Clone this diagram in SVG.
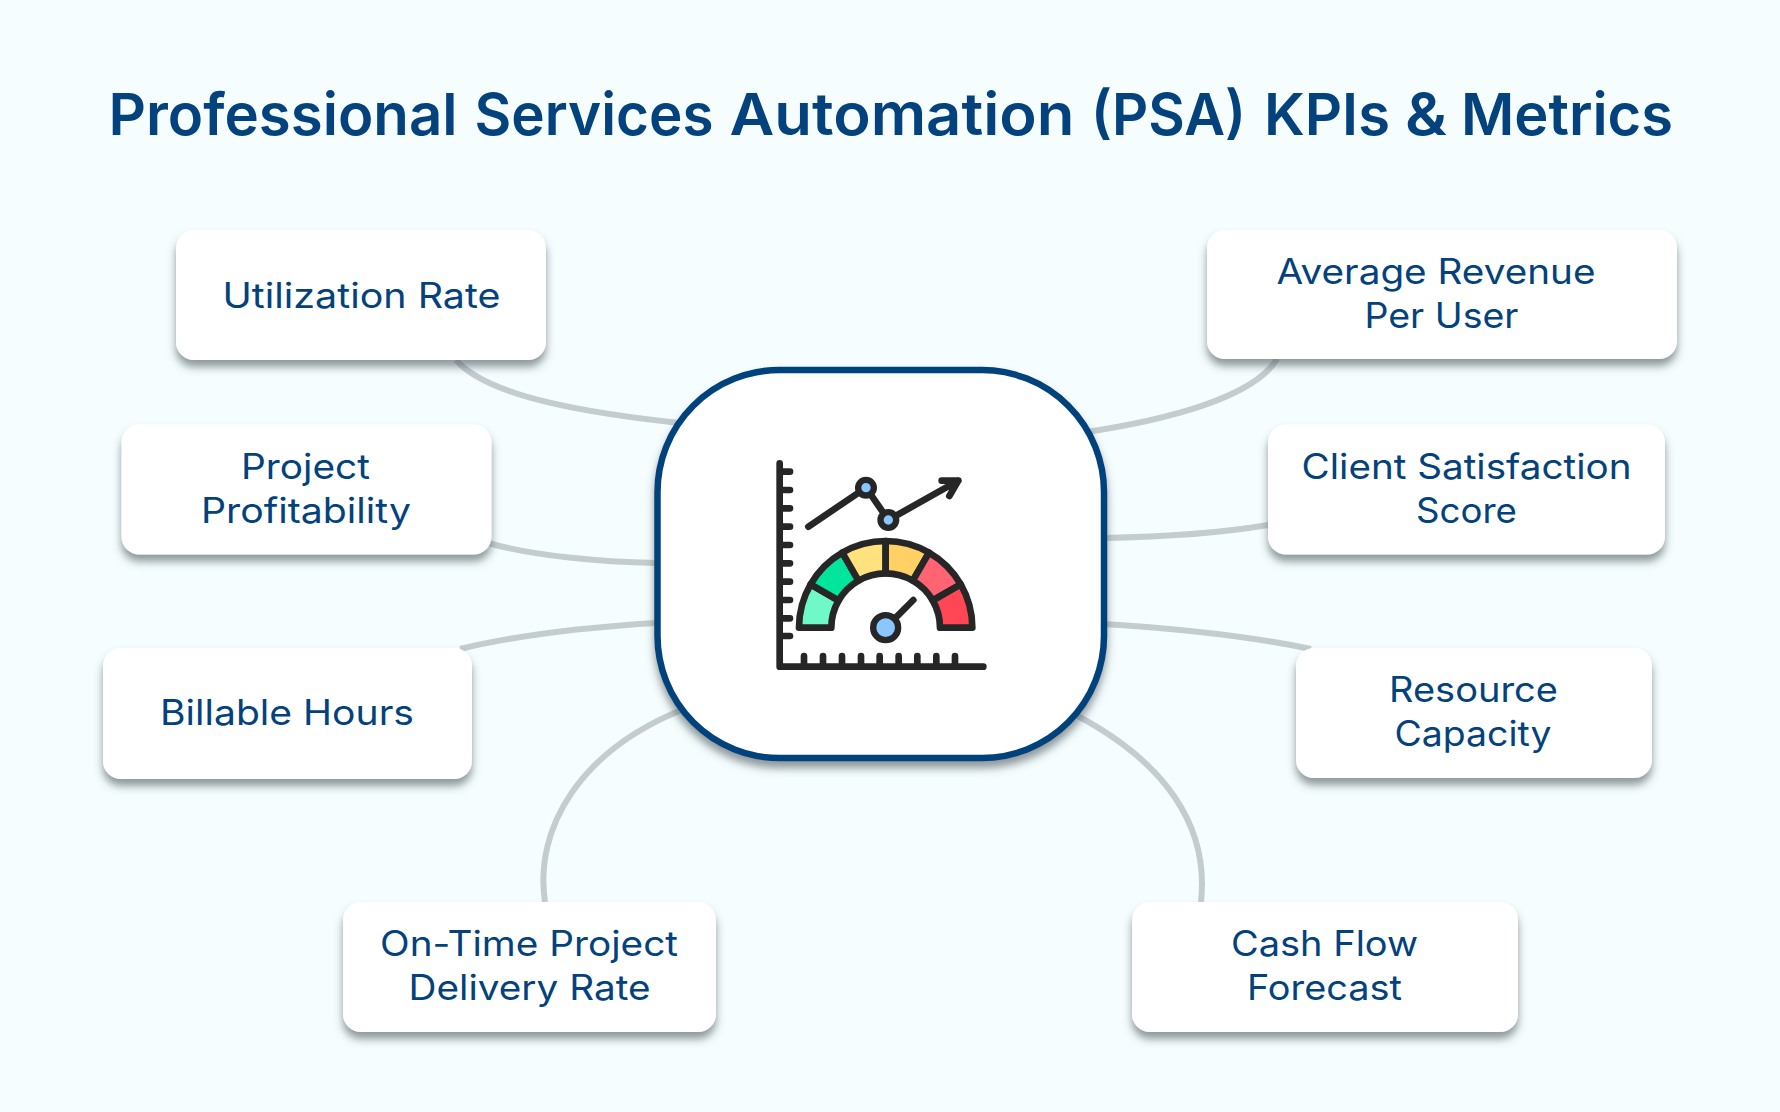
<svg xmlns="http://www.w3.org/2000/svg" width="1780" height="1112" viewBox="0 0 1780 1112">
<style>
.t{font-family:Inter,"Liberation Sans",sans-serif;fill:#03427c;font-size:35px;font-weight:400}
.h{font-family:Inter,"Liberation Sans",sans-serif;fill:#03427c;font-size:58px;font-weight:600}
.b{fill:#fff;filter:url(#s)}
.c{fill:none;stroke:#c3cdcf;stroke-width:6}
.k{fill:none;stroke:#262626;stroke-width:20;stroke-linecap:round;stroke-linejoin:round}
.g{stroke:#262626;stroke-width:20;stroke-linejoin:round}
.d{fill:#8ac6ff;stroke:#262626;stroke-width:19}
</style>
<defs><filter id="s" x="-15%" y="-20%" width="130%" height="145%"><feDropShadow dx="0" dy="7" stdDeviation="4.500" flood-color="#4a5458" flood-opacity=".6"/></filter></defs>
<rect width="1780" height="1112" fill="#f5fdff"/>
<text id="title" class="h" y="134.500"><tspan x="108.500" textLength="349" lengthAdjust="spacingAndGlyphs">Professional</tspan> <tspan x="474.500" textLength="239" lengthAdjust="spacingAndGlyphs">Services</tspan> <tspan x="729.500" textLength="345" lengthAdjust="spacingAndGlyphs">Automation</tspan> <tspan x="1091" textLength="155" lengthAdjust="spacingAndGlyphs">(PSA)</tspan> <tspan x="1264" textLength="126" lengthAdjust="spacingAndGlyphs">KPIs</tspan> <tspan x="1405" textLength="42" lengthAdjust="spacingAndGlyphs">&amp;</tspan> <tspan x="1461" textLength="212" lengthAdjust="spacingAndGlyphs">Metrics</tspan></text>
<g id="connectors">
<path class="c" d="M456 360C488 397 590 414 690 424"/>
<path class="c" d="M1277 359C1254 397 1169 420 1080 433"/>
<path class="c" d="M488 543C534 556 602 562 656 563"/>
<path class="c" d="M1268 525C1215 534 1158 537 1103 538"/>
<path class="c" d="M460 649C522 634 590 627 656 623"/>
<path class="c" d="M1311 649C1249 636 1169 628 1103 624"/>
<path class="c" d="M545 902C534 829 579 749 689 707"/>
<path class="c" d="M1201 902C1209 829 1169 761 1066 710"/>
</g>
<g id="node-utilization"><rect class="b" x="176" y="230" width="370" height="130" rx="18"/><text class="t" x="222.500" y="308" textLength="278" lengthAdjust="spacingAndGlyphs">Utilization Rate</text></g>
<g id="node-project"><rect class="b" x="121.500" y="424.500" width="370" height="130" rx="18"/><text class="t" x="241" y="479" textLength="129" lengthAdjust="spacingAndGlyphs">Project</text><text class="t" x="201" y="523" textLength="210" lengthAdjust="spacingAndGlyphs">Profitability</text></g>
<g id="node-billable"><rect class="b" x="103" y="648" width="369" height="131" rx="18"/><text class="t" x="160" y="725" textLength="254" lengthAdjust="spacingAndGlyphs">Billable Hours</text></g>
<g id="node-ontime"><rect class="b" x="343" y="902" width="373" height="130" rx="18"/><text class="t" x="380" y="956" textLength="298" lengthAdjust="spacingAndGlyphs">On-Time Project</text><text class="t" x="408.500" y="1000" textLength="242" lengthAdjust="spacingAndGlyphs">Delivery Rate</text></g>
<g id="node-cash"><rect class="b" x="1132" y="902" width="386" height="130" rx="18"/><text class="t" x="1231" y="956" textLength="187" lengthAdjust="spacingAndGlyphs">Cash Flow</text><text class="t" x="1247" y="1000" textLength="155" lengthAdjust="spacingAndGlyphs">Forecast</text></g>
<g id="node-resource"><rect class="b" x="1296" y="648" width="356" height="130" rx="18"/><text class="t" x="1389" y="702" textLength="169" lengthAdjust="spacingAndGlyphs">Resource</text><text class="t" x="1394.500" y="746" textLength="157" lengthAdjust="spacingAndGlyphs">Capacity</text></g>
<g id="node-client"><rect class="b" x="1268" y="424.500" width="397" height="130" rx="18"/><text class="t" x="1301.500" y="479" textLength="330" lengthAdjust="spacingAndGlyphs">Client Satisfaction</text><text class="t" x="1416" y="523" textLength="101" lengthAdjust="spacingAndGlyphs">Score</text></g>
<g id="node-average"><rect class="b" x="1207" y="230" width="470" height="129" rx="18"/><text class="t" x="1276.500" y="284" textLength="319" lengthAdjust="spacingAndGlyphs">Average Revenue</text><text class="t" x="1364.500" y="328" textLength="154" lengthAdjust="spacingAndGlyphs">Per User</text></g>
<g id="node-center">
<rect x="657.500" y="370" width="446.500" height="388" rx="122" fill="#fff" stroke="#03427c" stroke-width="6.500" filter="url(#s)"/>
<g transform="translate(640 360) scale(.33333)">
<path class="k" d="M419 310V920H1030M419 335H450M419 390H450M419 445H450M419 500H450M419 555H450M419 610H450M419 665H450M419 720H450M419 775H450M419 828H450M492 920V888M549 920V888M606 920V888M663 920V888M719 920V888M776 920V888M832 920V888M889 920V888M945 920V888"/>
<path class="k" d="M505 500L678 383L745 480L955 362M905 362H955L928 408"/>
<circle class="d" cx="678" cy="383" r="23.500"/>
<circle class="d" cx="745" cy="480" r="23.500"/>
<path class="g" fill="#6ff9c8" d="M477 803A260 260 0 0 1 511.800 673L595.800 721.500A163 163 0 0 0 574 803Z"/>
<path class="g" fill="#00e59b" d="M511.800 673A260 260 0 0 1 607 577.800L655.500 661.800A163 163 0 0 0 595.800 721.500Z"/>
<path class="g" fill="#ffe17d" d="M607 577.800A260 260 0 0 1 737 543V640A163 163 0 0 0 655.500 661.800Z"/>
<path class="g" fill="#ffd164" d="M737 543A260 260 0 0 1 867 577.800L818.500 661.800A163 163 0 0 0 737 640Z"/>
<path class="g" fill="#ff6473" d="M867 577.800A260 260 0 0 1 962.200 673L878.200 721.500A163 163 0 0 0 818.500 661.800Z"/>
<path class="g" fill="#ff4755" d="M962.200 673A260 260 0 0 1 997 803H900A163 163 0 0 0 878.200 721.500Z"/>
<path class="k" d="M765 775L820 720"/>
<circle class="d" cx="737" cy="803" r="37.500"/>
</g>
</g>
</svg>
